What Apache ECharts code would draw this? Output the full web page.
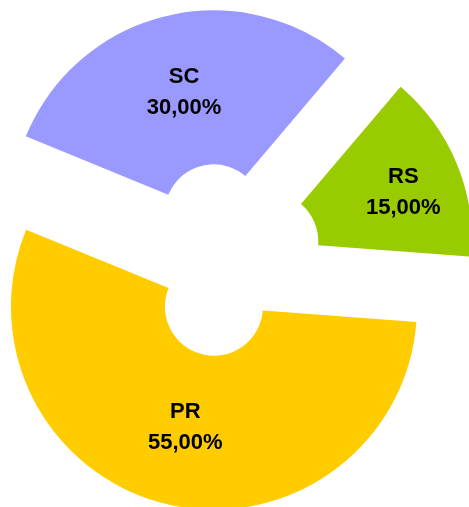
<!DOCTYPE html>
<html>
<head>
<meta charset="utf-8">
<script src="https://cdn.jsdelivr.net/npm/echarts@6/dist/echarts.min.js"></script>
<style>
html,body{margin:0;padding:0;background:#fff;}
#chart{width:469px;height:507px;}
</style>
</head>
<body>
<div id="chart"></div>
<script>
var categories = ['SC', 'RS', 'PR'];
var values = [30, 15, 55];
var colors = ['#9999FF', '#99CC00', '#FFCC00'];

var total = values.reduce(function (a, b) { return a + b; }, 0);
var data = categories.map(function (c, i) {
  return { name: c, value: values[i], selected: true, itemStyle: { color: colors[i] } };
});

var labelShift = [[1, 4], [15, 1], [1, -5]];

var chart = echarts.init(document.getElementById('chart'), null, { renderer: 'canvas' });
chart.setOption({
  animation: false,
  backgroundColor: '#ffffff',
  series: [{
    type: 'pie',
    center: [225, 260],
    radius: [49, 203],
    startAngle: 157.7,
    clockwise: true,
    selectedMode: 'multiple',
    selectedOffset: 48,
    avoidLabelOverlap: false,
    data: data,
    label: {
      show: true,
      position: 'inside',
      color: '#000',
      fontFamily: 'Liberation Sans, Arial, sans-serif',
      fontWeight: 'bold',
      fontSize: 22,
      lineHeight: 31,
      formatter: function (p) {
        return p.name + '\n' + (p.value / total * 100).toFixed(2).replace('.', ',') + '%';
      }
    },
    labelLine: { show: false },
    labelLayout: function (p) {
      var s = labelShift[p.dataIndex];
      return { dx: s[0], dy: s[1] };
    },
    emphasis: { disabled: true },
    select: { itemStyle: { borderWidth: 0 } }
  }]
});
</script>
</body>
</html>
